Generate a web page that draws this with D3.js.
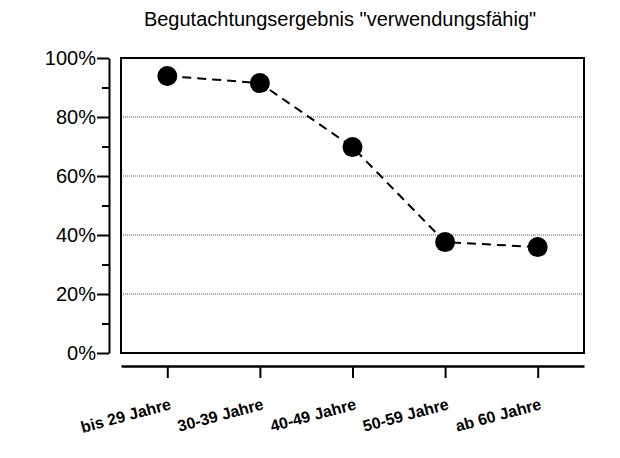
<!DOCTYPE html>
<html><head><meta charset="utf-8">
<script src="https://cdn.jsdelivr.net/npm/d3@7"></script>
<style>body{margin:0;background:#fff}text{font-family:Arial,"Liberation Sans",sans-serif}</style>
</head><body><div id="chart"></div>
<script>
const categories = ["bis 29 Jahre", "30-39 Jahre", "40-49 Jahre", "50-59 Jahre", "ab 60 Jahre"];
const values = [93.9, 91.5, 69.8, 37.6, 35.9];
const yTicks = [0, 20, 40, 60, 80, 100];

const svg = d3.select("#chart").append("svg").attr("width", 620).attr("height", 458);
const plotLeft = 121, plotRight = 584, plotTop = 58, plotBottom = 353;

svg.append("text").attr("x", 340).attr("y", 26).attr("text-anchor", "middle")
    .attr("font-size", 20).text('Begutachtungsergebnis "verwendungsfähig"');

const x = d3.scalePoint().domain(categories).range([plotLeft, plotRight]).padding(0.5);
const y = d3.scaleLinear().domain([0, 100]).range([plotBottom, plotTop]);

// gridlines
svg.selectAll(".grid").data([20, 40, 60, 80]).enter().append("line")
    .attr("x1", plotLeft).attr("x2", plotRight).attr("y1", d => y(d)).attr("y2", d => y(d))
    .attr("stroke", "#555").attr("stroke-width", 1).attr("stroke-dasharray", "1,1");

svg.append("rect").attr("x", plotLeft).attr("y", plotTop)
    .attr("width", plotRight - plotLeft).attr("height", plotBottom - plotTop)
    .attr("fill", "none").attr("stroke", "#000").attr("stroke-width", 2);

// y axis
const yAxis = svg.append("g").attr("transform", "translate(109,0)")
    .call(d3.axisLeft(y).tickValues(yTicks).tickFormat(d => d + "%").tickSize(12).tickSizeOuter(0));
yAxis.selectAll("text").attr("font-size", 20).attr("fill", "#000").attr("dx", "2");
svg.append("g").attr("transform", "translate(109,0)")
    .call(d3.axisLeft(y).tickValues([10, 30, 50, 70, 90]).tickFormat("").tickSize(7).tickSizeOuter(0))
    .select(".domain").remove();
svg.selectAll(".domain, .tick line").attr("stroke", "#000").attr("stroke-width", 2);

// x axis
const xAxis = svg.append("g").attr("transform", "translate(0,366)")
    .call(d3.axisBottom(x).tickSize(12).tickSizeOuter(0));
xAxis.select(".domain").attr("stroke", "#000").attr("stroke-width", 2.5);
xAxis.selectAll(".tick line").attr("stroke", "#000").attr("stroke-width", 2);
xAxis.selectAll("text").attr("font-size", 16).attr("font-weight", "bold").attr("fill", "#000")
    .attr("text-anchor", "end").attr("dy", 0).attr("y", 0)
    .attr("transform", "translate(4,43) rotate(-15)");

// line and points
svg.append("path").datum(values)
    .attr("d", d3.line().x((d, i) => x(categories[i])).y(d => y(d)))
    .attr("fill", "none").attr("stroke", "#000").attr("stroke-width", 2).attr("stroke-dasharray", "9,6");
svg.selectAll(".dot").data(values).enter().append("circle")
    .attr("cx", (d, i) => x(categories[i])).attr("cy", d => y(d)).attr("r", 10).attr("fill", "#000");
</script></body></html>
